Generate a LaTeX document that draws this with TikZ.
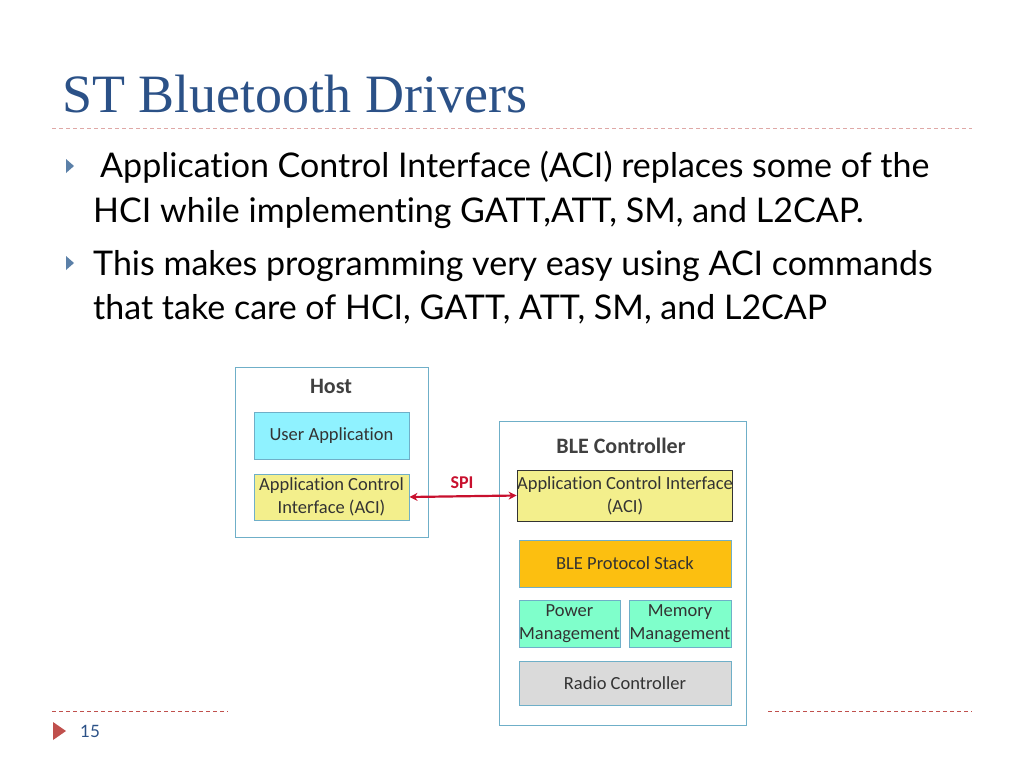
\documentclass[tikz,border=0pt]{standalone}
\usepackage{fontspec}
\setmainfont{Lato}[Ligatures={NoCommon}]
\newfontfamily\diagfont{Carlito}[Ligatures={NoCommon}]
\newfontfamily\titlefont{Liberation Serif}
\usetikzlibrary{positioning,arrows.meta}
\definecolor{titleblue}{HTML}{2B5187}
\definecolor{boxline}{HTML}{6FAFC8}
\definecolor{appcyan}{HTML}{8FF2FF}
\definecolor{aciyellow}{HTML}{F3EF8C}
\definecolor{stackorange}{HTML}{FCBF10}
\definecolor{mgmtgreen}{HTML}{7FFFCB}
\definecolor{radiogray}{HTML}{DADADA}
\definecolor{spired}{HTML}{C8102E}
\definecolor{footred}{HTML}{C0504D}
\definecolor{bulletblue}{HTML}{5B80A8}
\tikzset{
  block/.style={draw=boxline, line width=1pt, align=center, inner sep=0pt,
    font=\diagfont\fontsize{18.5}{23}\selectfont, text=black!80},
  frame/.style={draw=boxline, line width=1pt},
  bullet/.style={fill=bulletblue, draw=none},
  body/.style={anchor=base west, font=\fontsize{34}{40}\selectfont, inner sep=0pt},
  rule/.style={dashed, dash pattern=on 4pt off 3pt, line width=0.8pt},
}
\begin{document}
\begin{tikzpicture}[x=1pt,y=-1pt]
		\useasboundingbox (0,0) rectangle (1024,768);
		% title and rules
		\node[anchor=base west, inner sep=0pt, text=titleblue, font=\titlefont\fontsize{54}{60}\selectfont] (title) at (62,112) {ST Bluetooth Drivers};
		\draw[rule, footred!50] (52,128) -- (972,128);
		\draw[rule, footred] (52,711) -- (228,711);
		\draw[rule, footred] (768,711) -- (972,711);
		\fill[footred] (53,722) -- (66,731) -- (53,740) -- cycle;
		\node[anchor=base west, inner sep=0pt, text=titleblue, font=\fontsize{17}{20}\selectfont] (page) at (80,737) {15};
		% bullets
		\fill[bullet] (66,159) -- (74,166) -- (66,173) -- cycle;
		\fill[bullet] (66,256) -- (74,263) -- (66,270) -- cycle;
		\node[body] (l1) at (100,177) {Application Control Interface (ACI) replaces some of the};
		\node[body] (l2) at (93,222) {HCI while implementing GATT,ATT, SM, and L2CAP.};
		\node[body] (l3) at (93,275) {This makes programming very easy using ACI commands};
		\node[body] (l4) at (93,319) {that take care of HCI, GATT, ATT, SM, and L2CAP};
		% host
		\draw[frame] (235,367) rectangle (428,537);
		\node[font=\diagfont\bfseries\fontsize{22}{26}\selectfont, text=black!75] (host) at (331,386) {Host};
		\node[block, fill=appcyan, minimum width=155pt, minimum height=47pt] (userapp) at (331.5,435.5) {User Application};
		\node[block, fill=aciyellow, minimum width=155pt, minimum height=46pt] (hostaci) at (331.5,497) {Application Control\\Interface (ACI)};
		% controller
		\draw[frame] (499,421) rectangle (746,725);
		\node[font=\diagfont\bfseries\fontsize{22}{26}\selectfont, text=black!75] (ctrl) at (621,446) {BLE Controller};
		\node[block, draw=black!80, fill=aciyellow, minimum width=212pt, minimum height=51pt] (ctrlaci) at (625,495.5) {Application Control Interface\\(ACI)};
		\node[block, fill=stackorange, minimum width=212pt, minimum height=47pt] (stack) at (625,563.5) {BLE Protocol Stack};
		\node[block, fill=mgmtgreen, minimum width=101pt, minimum height=47pt] (power) at (569.5,623.5) {Power\\Management};
		\node[block, fill=mgmtgreen, minimum width=102pt, minimum height=47pt] (memory) at (680,623.5) {Memory\\Management};
		\node[block, fill=radiogray, minimum width=212pt, minimum height=44pt] (radio) at (625,683) {Radio Controller};
		% link
		\draw[spired, line width=2.2pt, {Stealth[length=8pt,width=8pt]}-{Stealth[length=8pt,width=8pt]}] (hostaci.east) -- (ctrlaci.west);
		\node[font=\diagfont\bfseries\fontsize{18}{21}\selectfont, text=spired] (spi) at (462,483) {SPI};
	\end{tikzpicture}
\end{document}
